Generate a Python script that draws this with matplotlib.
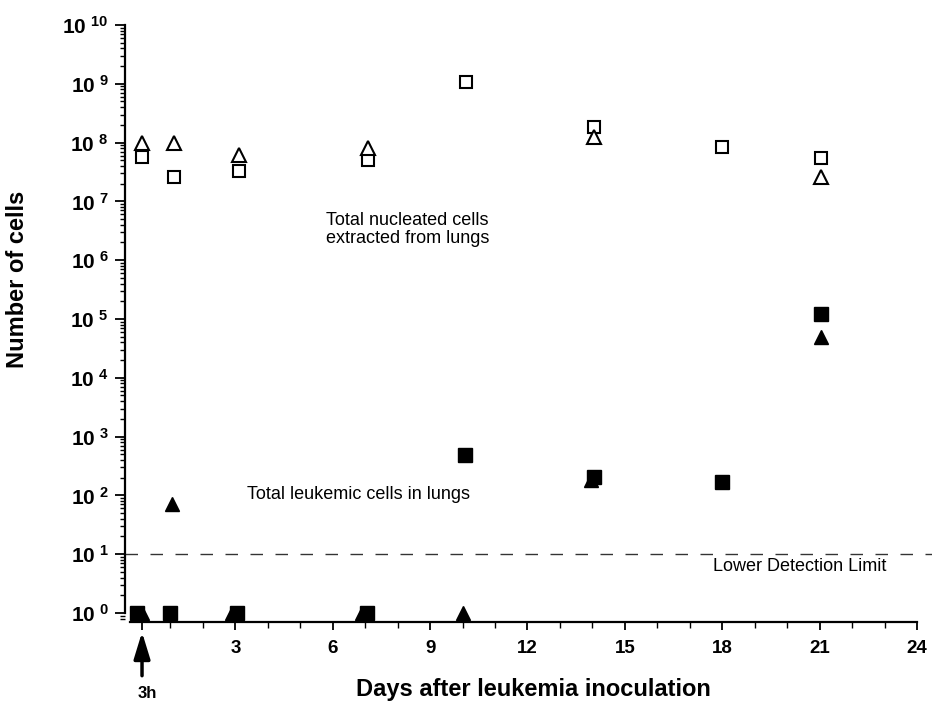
import matplotlib.pyplot as plt
from matplotlib.ticker import FixedLocator, LogLocator, NullFormatter

plt.rcParams['font.family'] = ['Liberation Sans', 'DejaVu Sans']
plt.rcParams['mathtext.fontset'] = 'custom'
plt.rcParams['mathtext.rm'] = 'Liberation Sans'
plt.rcParams['mathtext.bf'] = 'Liberation Sans:bold'

# Total nucleated cells extracted from lungs (open symbols)
nuc_sq_days = [0.125, 1.1, 3.1, 7.1, 10.1, 14.05, 18.0, 21.05]
nuc_sq_cells = [5.7e7, 2.6e7, 3.3e7, 5.0e7, 1.07e9, 1.85e8, 8.5e7, 5.5e7]
nuc_tri_days = [0.125, 1.1, 3.1, 7.1, 14.05, 21.05]
nuc_tri_cells = [1.0e8, 1.0e8, 6.1e7, 8.1e7, 1.25e8, 2.6e7]

# Total leukemic cells in lungs (filled symbols)
leuk_sq_days = [-0.03, 1.0, 3.05, 7.05, 10.07, 14.05, 18.0, 21.05]
leuk_sq_cells = [1, 1, 1, 1, 490, 205, 170, 1.2e5]
leuk_tri_days = [0.12, 1.05, 2.9, 6.9, 10.0, 13.95, 21.05]
leuk_tri_cells = [1, 71, 1, 1, 1, 185, 4.9e4]

detection_limit = 10
day_ticks = [3, 6, 9, 12, 15, 18, 21, 24]
decades = list(range(0, 11))

fig = plt.figure(figsize=(9.32, 7.04), dpi=100)
ax = fig.add_axes([0.1341, 0.1165, 0.8568, 0.848])
ax.set_yscale('log')
ax.set_xlim(-0.4, 24.2)
ax.set_ylim(10 ** -0.153, 10 ** 10)

ax.plot(nuc_sq_days, nuc_sq_cells, 's', ms=9, mfc='white', mec='black', mew=1.5, clip_on=False)
ax.plot(nuc_tri_days, nuc_tri_cells, '^', ms=9.5, mfc='white', mec='black', mew=1.5, clip_on=False)
ax.plot(leuk_tri_days, leuk_tri_cells, '^', ms=10.5, color='black', clip_on=False)
ax.plot(leuk_sq_days, leuk_sq_cells, 's', ms=9.5, color='black', clip_on=False)

# detection limit
ax.axhline(detection_limit, xmin=0, xmax=1.011, color='#333333', lw=1.0,
           dashes=(9, 9), clip_on=False)
ax.text(20.4, 6.2, 'Lower Detection Limit', fontsize=13, ha='center', va='center')

ax.text(8.3, 3.3e6, 'Total nucleated cells\nextracted from lungs', fontsize=13,
        ha='center', va='center', linespacing=1.1)
ax.text(6.8, 1.05e2, 'Total leukemic cells in lungs', fontsize=13,
        ha='center', va='center')

# axes styling
for side in ('top', 'right'):
    ax.spines[side].set_visible(False)
ax.spines['left'].set_bounds(1, 1e10)
ax.spines['bottom'].set_bounds(-0.25, 24)
ax.spines['left'].set_linewidth(1.6)
ax.spines['bottom'].set_linewidth(1.6)

ax.yaxis.set_major_locator(FixedLocator([10.0 ** d for d in decades]))
ax.set_yticklabels([r'$\mathbf{10^{\ %d}}$' % d for d in decades], fontsize=15)
ax.yaxis.set_minor_locator(LogLocator(base=10, subs=range(2, 10), numticks=20))
ax.yaxis.set_minor_formatter(NullFormatter())
ax.tick_params(axis='y', which='major', direction='out', length=7, width=1.3, pad=5)
ax.tick_params(axis='y', which='minor', direction='out', length=3.5, width=1.0)

ax.set_xticks([0.125] + day_ticks)
ax.set_xticklabels([''] + [str(d) for d in day_ticks], fontsize=13.5, fontweight='bold')
ax.set_xticks([d for d in range(1, 24) if d % 3 != 0], minor=True)
ax.tick_params(axis='x', which='major', direction='out', length=6, width=1.3, pad=7)
ax.tick_params(axis='x', which='minor', direction='out', length=4, width=1.0)

# 3 hours after inoculation
ax.annotate('', xy=(0.125, -0.017), xycoords=('data', 'axes fraction'),
            xytext=(0.125, -0.09), textcoords=('data', 'axes fraction'),
            arrowprops=dict(arrowstyle='-|>,head_length=0.62,head_width=0.19',
                            color='black', lw=2.5, mutation_scale=26,
                            shrinkA=0, shrinkB=0))
ax.text(0.3, -0.12, '3h', transform=ax.get_xaxis_transform(), fontsize=12,
        fontweight='bold', ha='center', va='center')

fig.text(0.572, 0.02, 'Days after leukemia inoculation', fontsize=17,
         fontweight='bold', ha='center', va='center')
fig.text(0.019, 0.603, 'Number of cells', fontsize=17, fontweight='bold',
         rotation=90, ha='center', va='center')

fig.savefig('out.png', dpi=100)
